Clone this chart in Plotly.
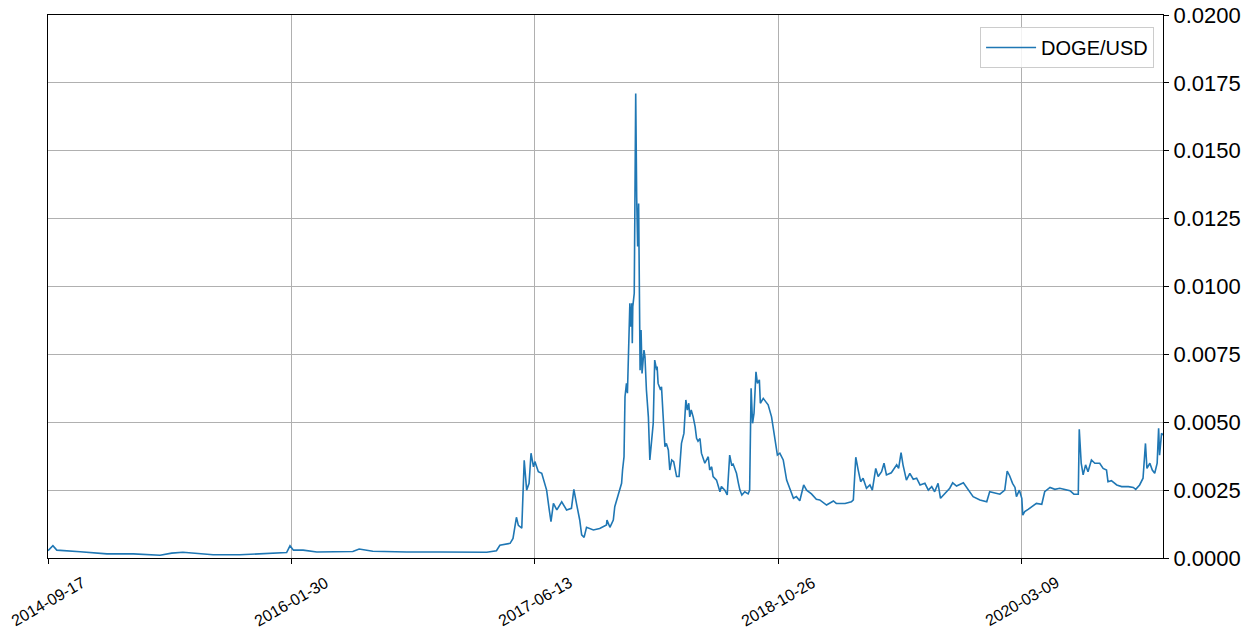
import pandas as pd
import plotly.graph_objects as go

series_name = "DOGE/USD"
start_date = "2014-09-17"
# observation dates, as days since start_date
day_offsets = [
    0, 10, 18, 51, 66, 121, 175, 230, 254, 277, 298, 339, 394, 462, 490, 497, 504, 524, 552,
    626, 639, 667, 737, 805, 887, 901, 921, 928, 949, 955, 962, 966, 973, 978, 983, 988, 992,
    997, 1000, 1007, 1014, 1021, 1024, 1029, 1033, 1038, 1045, 1055, 1065, 1075, 1080, 1086,
    1092, 1096, 1101, 1106, 1120, 1133, 1147, 1148, 1154, 1161, 1164, 1171, 1178, 1180, 1183,
    1185, 1188, 1190, 1192, 1195, 1197, 1199, 1200, 1201, 1204, 1206, 1207, 1209, 1211, 1213,
    1214, 1216, 1218, 1220, 1224, 1226, 1229, 1233, 1236, 1240, 1243, 1246, 1250, 1251, 1253,
    1258, 1260, 1263, 1267, 1270, 1274, 1277, 1281, 1285, 1291, 1296, 1301, 1306, 1310, 1313,
    1316, 1318, 1321, 1325, 1329, 1332, 1335, 1339, 1342, 1349, 1356, 1359, 1363, 1366, 1373,
    1380, 1383, 1390, 1395, 1400, 1404, 1407, 1414, 1418, 1421, 1425, 1431, 1438, 1441, 1444,
    1447, 1450, 1454, 1457, 1461, 1463, 1469, 1474, 1479, 1486, 1493, 1498, 1503, 1510, 1517,
    1524, 1531, 1537, 1544, 1552, 1558, 1568, 1578, 1585, 1599, 1613, 1619, 1637, 1650, 1654,
    1659, 1664, 1669, 1674, 1681, 1688, 1693, 1700, 1705, 1712, 1717, 1722, 1732, 1743, 1747,
    1752, 1756, 1763, 1770, 1777, 1784, 1791, 1801, 1808, 1815, 1821, 1828, 1833, 1842, 1852,
    1858, 1866, 1880, 1890, 1900, 1914, 1928, 1934, 1945, 1955, 1965, 1970, 1975, 1981, 1986,
    1989, 1995, 2000, 2002, 2006, 2013, 2020, 2030, 2041, 2047, 2058, 2068, 2078, 2088, 2099,
    2107, 2116, 2118, 2122, 2126, 2131, 2136, 2143, 2150, 2160, 2167, 2174, 2177, 2184, 2195,
    2205, 2219, 2229, 2234, 2242, 2249, 2254, 2257, 2263, 2268, 2273, 2278, 2281, 2283, 2287, 2290,
]
prices = [
    0.00027, 0.00045, 0.00029, 0.00023, 0.00023, 0.00015, 0.00015, 0.00010, 0.00018, 0.00021,
    0.00018, 0.00012, 0.00012, 0.00016, 0.00020, 0.00045, 0.00029, 0.00029, 0.00022,
    0.00024, 0.00033, 0.00025, 0.00022, 0.00022, 0.00021, 0.00021, 0.00027, 0.00047, 0.00054,
    0.00072, 0.00150, 0.00120, 0.00110, 0.00360, 0.00250, 0.00275, 0.00386,
    0.00336, 0.00355, 0.00318, 0.00312, 0.00263, 0.00250, 0.00183, 0.00134, 0.00201, 0.00177,
    0.00207, 0.00177, 0.00183, 0.00253, 0.00195,
    0.00140, 0.00085, 0.00076, 0.00113, 0.00103, 0.00109, 0.00122, 0.00140, 0.00113, 0.00140,
    0.00189, 0.00232, 0.00275, 0.00324, 0.00373,
    0.00594, 0.00643, 0.00607, 0.00741, 0.00938, 0.00852, 0.00938, 0.00791, 0.00926, 0.00975,
    0.01390, 0.01711, 0.01330, 0.01147, 0.01306,
    0.01147, 0.00692, 0.00840, 0.00680, 0.00766, 0.00741, 0.00619, 0.00520, 0.00361, 0.00459,
    0.00496, 0.00729, 0.00692, 0.00705, 0.00643,
    0.00619, 0.00631, 0.00533, 0.00410, 0.00422, 0.00398, 0.00324, 0.00361, 0.00355, 0.00300,
    0.00300, 0.00422, 0.00459, 0.00582, 0.00545,
    0.00570, 0.00520, 0.00545, 0.00520, 0.00484, 0.00441, 0.00430, 0.00440, 0.00386, 0.00349,
    0.00373, 0.00324, 0.00336, 0.00300, 0.00287,
    0.00244, 0.00263, 0.00250, 0.00232, 0.00379, 0.00343, 0.00346, 0.00312, 0.00275, 0.00250,
    0.00232, 0.00244, 0.00236, 0.00250, 0.00625,
    0.00496, 0.00533, 0.00686, 0.00643, 0.00656, 0.00570, 0.00588, 0.00576, 0.00564, 0.00520,
    0.00447, 0.00379, 0.00386, 0.00361, 0.00287,
    0.00250, 0.00220, 0.00226, 0.00211, 0.00269, 0.00250, 0.00236, 0.00216, 0.00214, 0.00195,
    0.00210, 0.00201, 0.00201, 0.00207, 0.00214,
    0.00371, 0.00324, 0.00281, 0.00294, 0.00257, 0.00269, 0.00250, 0.00330, 0.00300, 0.00318,
    0.00349, 0.00306, 0.00314, 0.00343, 0.00330,
    0.00388, 0.00343, 0.00287, 0.00312, 0.00290, 0.00294, 0.00269, 0.00275, 0.00250, 0.00263,
    0.00244, 0.00275, 0.00220, 0.00238, 0.00257,
    0.00277, 0.00265, 0.00277, 0.00250, 0.00226, 0.00214, 0.00207, 0.00244, 0.00240, 0.00235,
    0.00250, 0.00320, 0.00303, 0.00275, 0.00260,
    0.00226, 0.00250, 0.00220, 0.00158, 0.00171, 0.00179, 0.00187, 0.00201, 0.00198, 0.00244,
    0.00260, 0.00253, 0.00257, 0.00253, 0.00248,
    0.00235, 0.00235, 0.00474, 0.00349, 0.00306, 0.00343, 0.00318, 0.00361, 0.00349, 0.00349,
    0.00330, 0.00324, 0.00281, 0.00285, 0.00269,
    0.00263, 0.00263, 0.00260, 0.00253, 0.00269, 0.00294, 0.00422, 0.00330, 0.00349, 0.00324,
    0.00312, 0.00349, 0.00478, 0.00379, 0.00459, 0.00453,
]
tick_labels = ["2014-09-17", "2016-01-30", "2017-06-13", "2018-10-26", "2020-03-09"]
y_ticks = [0.0, 0.0025, 0.005, 0.0075, 0.01, 0.0125, 0.015, 0.0175, 0.02]

start = pd.Timestamp(start_date)
dates = [start + pd.Timedelta(days=d) for d in day_offsets]
tick_dates = [pd.Timestamp(t) for t in tick_labels]

FONT = "Liberation Sans, Arial, sans-serif"

fig = go.Figure()
fig.add_trace(go.Scatter(
    x=dates, y=prices, mode="lines", name=series_name,
    line=dict(color="#1f77b4", width=1.6),
))

# rotated date labels centred on their ticks
for td, label in zip(tick_dates, tick_labels):
    fig.add_annotation(
        x=td, y=0, xref="x", yref="paper",
        text=label, showarrow=False, textangle=-30,
        xanchor="center", yanchor="middle", yshift=-43,
        font=dict(size=16, family=FONT, color="black"),
    )

fig.update_layout(
    width=1246, height=628,
    margin=dict(l=48, r=83, t=15, b=70),
    paper_bgcolor="white", plot_bgcolor="white",
    font=dict(family=FONT, color="black"),
    showlegend=True,
    legend=dict(
        x=0.992, y=0.978, xanchor="right", yanchor="top",
        bgcolor="rgba(255,255,255,0.85)", bordercolor="#cccccc", borderwidth=1,
        font=dict(size=20, family=FONT, color="black"),
        itemwidth=50,
    ),
)
fig.update_xaxes(
    type="date",
    automargin=False,
    range=[dates[0] - pd.Timedelta(hours=2), dates[-1]],
    tickvals=tick_dates,
    showticklabels=False,
    showgrid=True, gridcolor="#b0b0b0", gridwidth=1,
    showline=True, linecolor="black", linewidth=1, mirror=True,
    ticks="outside", ticklen=5, tickcolor="black",
    zeroline=False,
)
fig.update_yaxes(
    side="right",
    automargin=False,
    range=[-0.0000001, 0.0200001],
    tickvals=y_ticks,
    tickformat=".4f",
    ticklabeloverflow="allow",
    tickfont=dict(size=22, family=FONT),
    showgrid=True, gridcolor="#b0b0b0", gridwidth=1,
    showline=True, linecolor="black", linewidth=1, mirror=True,
    ticks="outside", ticklen=5, tickcolor="black",
    zeroline=False,
)

fig.write_html(
    "out.html",
    config={"displayModeBar": False},
    post_script="document.body.style.margin='0';document.body.style.overflow='hidden';",
)
